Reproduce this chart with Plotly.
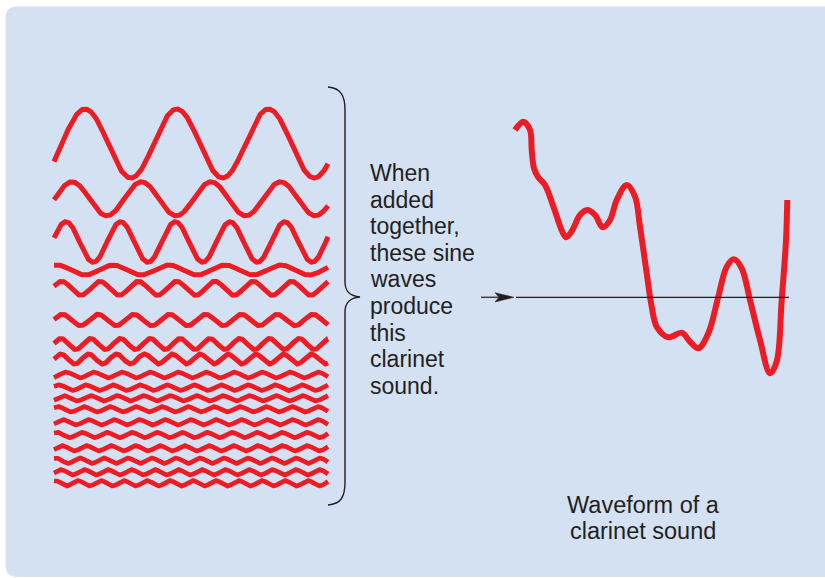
import numpy as np
import plotly.graph_objects as go

# ---------------- data ----------------
# component sine waves (left stack): period (px), amplitude (px), offset of first crest from left edge (px)
wave_period = [91.7, 69.5, 54.7, 56.0, 38.3, 35.8, 29.8, 27.8,
               28.0, 27.0, 26.5, 26.0, 25.5, 25.0, 24.5, 24.0, 23.5, 23.0]
wave_amplitude = [34.5, 17.0, 20.3, 5.0, 7.0, 5.7, 5.5, 5.0,
                  2.9, 2.8, 2.7, 2.7, 2.7, 2.7, 2.7, 2.7, 2.7, 2.7]
wave_crest = [31.0, 18.0, 11.9, 3.0, 7.7, 8.5, 7.0, 7.0,
              12.0, 5.0, 10.0, 4.0, 9.0, 3.0, 8.0, 2.0, 7.0, 1.0]

# clarinet waveform samples: time offset and value above the zero line
clarinet_t = [0, 8.3, 15, 16.7, 19, 23.3, 30, 40, 46.7, 51, 56.7, 65, 72.3, 80, 87.7,
              95, 101.7, 111.7, 120, 125, 131.7, 136.7, 141.7, 153.3, 166.7, 175,
              183.3, 193.3, 203.3, 211.7, 219, 226.7, 235, 245, 255, 261.7, 266.7, 271, 272.3]
clarinet_v = [167.3, 175.6, 167.3, 147.3, 129, 120, 112.3, 86, 67, 60, 66, 82.3, 87.3,
              82.3, 70, 77.3, 97.3, 112.3, 100.6, 70.6, 24, -9.4, -29.4, -40, -35.4,
              -44.4, -51, -36, 0.6, 30.6, 38, 29, -2.7, -42.7, -76, -64, -2.7, 57.3, 97.3]

body_lines = ["When", "added", "together,", "these sine", "waves",
              "produce", "this", "clarinet", "sound."]
caption_lines = ["Waveform of a", "clarinet sound"]

# ---------------- layout constants ----------------
W, H = 825, 578
RED = "#ED1C24"
INK = "#231F20"
PANEL = "#D4E1F2"
wave_left, wave_right = 54, 328
row_y = [143.5, 198.8, 242, 270, 288.3, 320, 344, 359,
         375, 387.7, 398.3, 409.3, 422.3, 435, 448.3, 460.7, 472.3, 483.3]
clar_x0, clar_base = 515, 297.3

fig = go.Figure()

# sine waves
xs = np.linspace(wave_left, wave_right, 900)
for i, (yc, P, A, c) in enumerate(zip(row_y, wave_period, wave_amplitude, wave_crest)):
    ys = yc - A * np.cos(2 * np.pi * (xs - wave_left - c) / P)
    fig.add_trace(go.Scatter(x=xs, y=ys, mode="lines",
                             line=dict(color=RED, width=5 if i < 8 else 4.7),
                             hoverinfo="skip", showlegend=False))

# clarinet waveform
fig.add_trace(go.Scatter(x=[clar_x0 + t for t in clarinet_t],
                         y=[clar_base - v for v in clarinet_v],
                         mode="lines",
                         line=dict(color=RED, width=6, shape="spline", smoothing=1.0),
                         hoverinfo="skip", showlegend=False))

shapes = []
# background panel with rounded left corners
x0, y0, x1, y1, r = 5.5, 6.5, 830, 577, 12
shapes.append(dict(type="path", xref="x", yref="y", layer="below",
                   path=f"M {x0+r},{y0} L {x1},{y0} L {x1},{y1} L {x0+r},{y1} "
                        f"Q {x0},{y1} {x0},{y1-r} L {x0},{y0+r} Q {x0},{y0} {x0+r},{y0} Z",
                   fillcolor=PANEL, line=dict(width=0)))
# brace
shapes.append(dict(type="path", xref="x", yref="y",
                   path="M 328,87 C 341,88 345,96 345,110 L 345,282 C 345,292 350,296 360,297 "
                        "C 350,298 345,302 345,312 L 345,482 C 345,497 341,504 328,505",
                   line=dict(color=INK, width=1.4)))
# zero line
shapes.append(dict(type="line", xref="x", yref="y", x0=516, x1=789, y0=clar_base, y1=clar_base,
                   line=dict(color=INK, width=1.3)))
# arrow shaft + head
shapes.append(dict(type="line", xref="x", yref="y", x0=481, x1=500, y0=clar_base, y1=clar_base,
                   line=dict(color="#444444", width=1.5)))
shapes.append(dict(type="path", xref="x", yref="y",
                   path=f"M 495,{clar_base-4.6} L 514,{clar_base} L 495,{clar_base+4.6} L 499,{clar_base} Z",
                   fillcolor=INK, line=dict(color=INK, width=0.5)))

annotations = []
FS = 23
for i, t in enumerate(body_lines):
    base = 181 + i * 26.6
    annotations.append(dict(x=367.5, y=base - 0.3465 * FS, xref="x", yref="y", text=t,
                            showarrow=False, xanchor="left", yanchor="middle",
                            font=dict(family="Liberation Sans, Arial, sans-serif", size=FS, color=INK)))
FS2 = 23.5
for i, t in enumerate(caption_lines):
    base = 513.3 + i * 26
    annotations.append(dict(x=643, y=base - 0.3465 * FS2, xref="x", yref="y", text=t,
                            showarrow=False, xanchor="center", yanchor="middle",
                            font=dict(family="Liberation Sans, Arial, sans-serif", size=FS2, color=INK)))

fig.update_layout(
    width=W, height=H, margin=dict(l=0, r=0, t=0, b=0),
    paper_bgcolor="white", plot_bgcolor="white",
    xaxis=dict(range=[0, W], visible=False, fixedrange=True),
    yaxis=dict(range=[H, 0], visible=False, fixedrange=True),
    shapes=shapes, annotations=annotations, showlegend=False,
)

fig.write_html("out.html", config={"displayModeBar": False},
               post_script="document.body.style.margin='0';document.body.style.overflow='hidden';")
